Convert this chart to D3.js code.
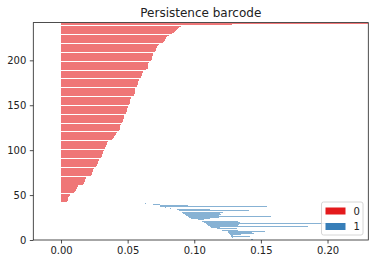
<!DOCTYPE html>
<html>
<head>
<meta charset="utf-8">
<script src="https://cdn.jsdelivr.net/npm/d3@7"></script>
<style>
  html, body { margin: 0; padding: 0; background: #fff; }
  svg { display: block; font-family: "DejaVu Sans", sans-serif; }
</style>
</head>
<body>
<svg id="chart" width="375" height="264"></svg>
<script>
// ---- data ----
const title = "Persistence barcode";
const legendLabels = ["0", "1"];
const dimColors = ["#e41a1c", "#377eb8"];

// dimension-1 intervals, bar index 0..40 (bottom to top)
const h1Births = [0.1428, 0.1420, 0.1300, 0.1280, 0.1275, 0.1273, 0.1265, 0.1260, 0.1255, 0.1250,
                  0.1205, 0.1200, 0.1195, 0.1168, 0.1125, 0.1115, 0.1105, 0.1095, 0.1085, 0.1075,
                  0.1060, 0.1050, 0.1040, 0.1030, 0.0975, 0.0960, 0.0950, 0.0938, 0.0930, 0.0918,
                  0.0910, 0.0900, 0.0893, 0.0885, 0.0868, 0.0820, 0.0780, 0.0745, 0.0743, 0.0693,
                  0.0632];
const h1Deaths = [0.1437, 0.1428, 0.1310, 0.1290, 0.1420, 0.1293, 0.1350, 0.1445, 0.1430, 0.1530,
                  0.1330, 0.1335, 0.1510, 0.1318, 0.1190, 0.1855, 0.1325, 0.1335, 0.2097, 0.1340,
                  0.1330, 0.1338, 0.1090, 0.1070, 0.1120, 0.1185, 0.1573, 0.1185, 0.1200, 0.1190,
                  0.1213, 0.1390, 0.1213, 0.1408, 0.1118, 0.0826, 0.0787, 0.1545, 0.0950, 0.0745,
                  0.0636];

// dimension-0 intervals (birth 0), bar index 41..241 (bottom to top); last one is infinite
const h0Deaths = [0.0002, 0.0003, 0.0045, 0.0050, 0.0050, 0.0055, 0.0055, 0.0060, 0.0065, 0.0068,
                  0.0085, 0.0095, 0.0098, 0.0105, 0.0110, 0.0115, 0.0120, 0.0122, 0.0128, 0.0130,
                  0.0155, 0.0165, 0.0170, 0.0175, 0.0178, 0.0180, 0.0183, 0.0186, 0.0190, 0.0195,
                  0.0215, 0.0228, 0.0230, 0.0232, 0.0235, 0.0237, 0.0240, 0.0243, 0.0245, 0.0248,
                  0.0260, 0.0265, 0.0270, 0.0272, 0.0275, 0.0278, 0.0280, 0.0283, 0.0287, 0.0290,
                  0.0298, 0.0302, 0.0305, 0.0308, 0.0310, 0.0312, 0.0315, 0.0317, 0.0320, 0.0322,
                  0.0328, 0.0330, 0.0333, 0.0336, 0.0340, 0.0342, 0.0344, 0.0347, 0.0350, 0.0355,
                  0.0375, 0.0385, 0.0390, 0.0398, 0.0400, 0.0405, 0.0410, 0.0413, 0.0418, 0.0420,
                  0.0432, 0.0438, 0.0440, 0.0442, 0.0443, 0.0444, 0.0445, 0.0447, 0.0448, 0.0452,
                  0.0460, 0.0463, 0.0465, 0.0467, 0.0470, 0.0472, 0.0474, 0.0476, 0.0480, 0.0483,
                  0.0488, 0.0490, 0.0492, 0.0494, 0.0496, 0.0498, 0.0500, 0.0502, 0.0505, 0.0508,
                  0.0513, 0.0515, 0.0516, 0.0517, 0.0518, 0.0520, 0.0522, 0.0525, 0.0530, 0.0545,
                  0.0550, 0.0551, 0.0552, 0.0553, 0.0554, 0.0555, 0.0556, 0.0557, 0.0558, 0.0565,
                  0.0570, 0.0572, 0.0574, 0.0576, 0.0578, 0.0580, 0.0582, 0.0585, 0.0588, 0.0595,
                  0.0600, 0.0603, 0.0605, 0.0608, 0.0610, 0.0613, 0.0616, 0.0620, 0.0625, 0.0635,
                  0.0650, 0.0651, 0.0652, 0.0653, 0.0654, 0.0655, 0.0657, 0.0660, 0.0665, 0.0675,
                  0.0680, 0.0682, 0.0684, 0.0686, 0.0688, 0.0690, 0.0693, 0.0697, 0.0700, 0.0705,
                  0.0710, 0.0712, 0.0715, 0.0718, 0.0722, 0.0728, 0.0735, 0.0742, 0.0748, 0.0765,
                  0.0775, 0.0778, 0.0780, 0.0785, 0.0790, 0.0798, 0.0808, 0.0818, 0.0825, 0.0830,
                  0.0845, 0.0852, 0.0860, 0.0868, 0.0878, 0.0888, 0.0898, 0.0915, 0.0940,
                  0.1280, Infinity];

const xDomain = [-0.0208, 0.2306];
const yDomain = [0, 242];
const xTicks = [0, 0.05, 0.10, 0.15, 0.20];
const xTickLabels = ["0.00", "0.05", "0.10", "0.15", "0.20"];
const yTicks = [0, 50, 100, 150, 200];
const yTickLabels = ["0", "50", "100", "150", "200"];

// ---- build interval table ----
const bars = [];
h1Births.forEach((b, i) => bars.push({ dim: 1, birth: b, death: h1Deaths[i] }));
h0Deaths.forEach(d => bars.push({ dim: 0, birth: 0, death: d }));
bars.forEach((d, i) => d.index = i);

// ---- layout ----
const svg = d3.select("#chart");
const plotL = 33.3, plotR = 368.3, plotT = 22.6, plotB = 240;
const x = d3.scaleLinear().domain(xDomain).range([plotL, plotR]);
const y = d3.scaleLinear().domain(yDomain).range([plotB, plotT]);
const barH = 0.89;
const snapShift = 0.2;
const ink = "#222";

// pixel-snapped bar edges (like the raster renderer of the original)
const yTop = d => Math.round(y(d.index + barH / 2) - snapShift);
const yBot = d => Math.round(y(d.index - barH / 2) - snapShift);
const xL = d => Math.round(x(d.birth));
const xR = d => Math.round(x(Math.min(d.death, xDomain[1])));

svg.append("defs").append("clipPath").attr("id", "plotclip")
  .append("rect").attr("x", plotL).attr("y", plotT).attr("width", plotR - plotL).attr("height", plotB - plotT);

svg.append("g").attr("clip-path", "url(#plotclip)")
  .selectAll("rect").data(bars.filter(d => yBot(d) > yTop(d))).join("rect")
  .attr("shape-rendering", "crispEdges")
  .attr("x", xL)
  .attr("width", d => Math.max(d.dim === 1 ? 1 : 0, xR(d) - xL(d)))
  .attr("y", yTop)
  .attr("height", d => yBot(d) - yTop(d))
  .attr("fill", d => dimColors[d.dim])
  .attr("fill-opacity", 0.6);

// axes
const xAxis = d3.axisBottom(x).tickValues(xTicks).tickFormat((d, i) => xTickLabels[i]).tickSize(3.5).tickPadding(3.5);
const yAxis = d3.axisLeft(y).tickValues(yTicks).tickFormat((d, i) => yTickLabels[i]).tickSize(3.5).tickPadding(3.5);

const gx = svg.append("g").attr("transform", `translate(0,${plotB})`).call(xAxis);
const gy = svg.append("g").attr("transform", `translate(${plotL},0)`).call(yAxis);
[gx, gy].forEach(g => {
  g.select(".domain").remove();
  g.selectAll(".tick line").attr("stroke", ink).attr("stroke-width", 0.8);
  g.selectAll(".tick text").attr("fill", ink).attr("font-size", 10).attr("font-family", "DejaVu Sans");
});

// frame
svg.append("rect").attr("x", plotL).attr("y", plotT).attr("width", plotR - plotL).attr("height", plotB - plotT)
  .attr("fill", "none").attr("stroke", ink).attr("stroke-width", 0.8);

// title
svg.append("text").attr("x", (plotL + plotR) / 2).attr("y", 16.5).attr("text-anchor", "middle")
  .attr("font-size", 12).attr("fill", ink).text(title);

// legend
const lg = svg.append("g").attr("transform", "translate(321.5,202)");
lg.append("rect").attr("width", 41.5).attr("height", 33).attr("rx", 2).attr("ry", 2)
  .attr("fill", "#fff").attr("fill-opacity", 0.8).attr("stroke", "#ccc").attr("stroke-width", 0.8);
legendLabels.forEach((lab, i) => {
  lg.append("rect").attr("x", 4).attr("y", 5.5 + i * 15.5).attr("width", 20).attr("height", 7)
    .attr("fill", dimColors[i]);
  lg.append("text").attr("x", 32).attr("y", 12.5 + i * 15.5).attr("font-size", 10).attr("fill", ink).text(lab);
});
</script>
</body>
</html>
